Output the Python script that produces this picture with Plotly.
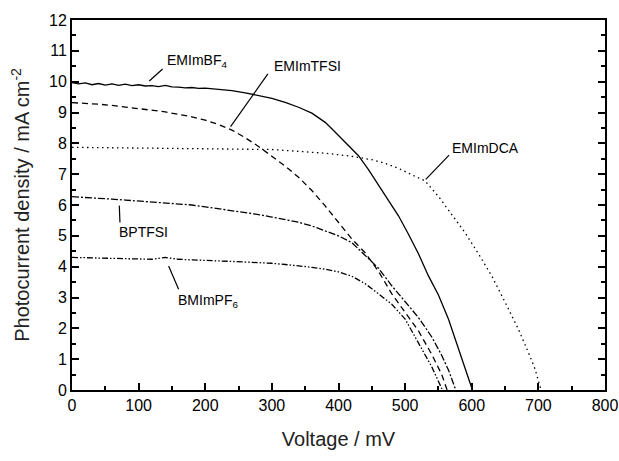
import plotly.graph_objects as go

# ---------------- data ----------------
v_bf4 = [0, 10, 20, 30, 40, 50, 60, 70, 80, 90, 100, 110, 120, 130, 140, 150, 160, 170, 180, 190,
         200, 220, 240, 260, 280, 300, 320, 340, 360, 380, 390, 400, 415, 430, 445, 460, 475, 490,
         505, 520, 535, 550, 565, 575, 585, 595, 601]
j_bf4 = [9.97, 9.93, 9.96, 9.90, 9.94, 9.89, 9.93, 9.88, 9.92, 9.87, 9.90, 9.86, 9.87, 9.84, 9.88,
         9.83, 9.82, 9.80, 9.81, 9.78, 9.79, 9.75, 9.71, 9.64, 9.55, 9.46, 9.33, 9.17, 8.98, 8.68,
         8.47, 8.25, 7.93, 7.60, 7.15, 6.65, 6.15, 5.65, 5.05, 4.42, 3.70, 3.08, 2.30, 1.65, 0.97,
         0.38, 0.0]

v_tfsi = [0, 20, 40, 60, 80, 100, 120, 140, 160, 180, 200, 220, 240, 260, 280, 300, 320, 340, 360,
          380, 400, 420, 440, 460, 480, 500, 520, 540, 555, 563]
j_tfsi = [9.32, 9.30, 9.27, 9.23, 9.18, 9.13, 9.08, 9.02, 8.94, 8.86, 8.75, 8.61, 8.43, 8.18, 7.90,
          7.58, 7.26, 6.90, 6.47, 5.97, 5.42, 4.90, 4.45, 3.85, 3.12, 2.50, 1.92, 1.15, 0.50, 0.0]

v_dca = [0, 50, 100, 150, 200, 250, 300, 340, 380, 420, 450, 470, 490, 510, 530, 550, 570, 590,
         610, 630, 650, 670, 685, 695, 704]
j_dca = [7.87, 7.86, 7.86, 7.85, 7.84, 7.82, 7.80, 7.74, 7.68, 7.58, 7.47, 7.35, 7.19, 6.98, 6.78,
         6.28, 5.70, 5.10, 4.42, 3.70, 2.85, 1.97, 1.22, 0.68, 0.0]

v_bp = [0, 20, 40, 60, 80, 100, 120, 140, 160, 180, 200, 220, 240, 260, 280, 300, 320, 340, 360,
        380, 400, 420, 440, 460, 480, 500, 520, 540, 555, 565, 576]
j_bp = [6.27, 6.25, 6.22, 6.19, 6.16, 6.13, 6.10, 6.08, 6.04, 6.00, 5.94, 5.88, 5.83, 5.76, 5.69,
        5.61, 5.52, 5.44, 5.32, 5.17, 5.00, 4.78, 4.38, 3.95, 3.38, 2.85, 2.35, 1.72, 1.12, 0.65, 0.0]

v_pf6 = [0, 20, 40, 60, 80, 100, 120, 140, 150, 160, 180, 200, 220, 240, 260, 280, 300, 320, 340,
         360, 380, 400, 420, 440, 460, 480, 500, 520, 540, 556]
j_pf6 = [4.30, 4.29, 4.27, 4.28, 4.26, 4.25, 4.24, 4.30, 4.27, 4.24, 4.22, 4.21, 4.19, 4.17, 4.15,
         4.14, 4.11, 4.07, 4.03, 3.98, 3.92, 3.83, 3.69, 3.45, 3.12, 2.78, 2.30, 1.52, 0.75, 0.0]

labels = ["EMImBF<sub>4</sub>", "EMImTFSI", "EMImDCA", "BPTFSI", "BMImPF<sub>6</sub>"]

# ---------------- figure ----------------
FONT = "Arial, Liberation Sans, sans-serif"
series = [
    (v_bf4, j_bf4, "solid"),
    (v_tfsi, j_tfsi, "6px,4px"),
    (v_dca, j_dca, "1.5px,3.5px"),
    (v_bp, j_bp, "7px,2px,2px,2px"),
    (v_pf6, j_pf6, "6px,2px,1.5px,2px,1.5px,2px"),
]

fig = go.Figure()
for (vx, jy, dash), name in zip(series, labels):
    fig.add_trace(go.Scatter(x=vx, y=jy, mode="lines", name=name,
                             line=dict(color="black", width=1.3, dash=dash),
                             showlegend=False))

# label placement (layout only)
label_pos = [(139, 10.67), (300, 10.51), (567, 7.85), (67, 5.11), (156, 2.89)]
leaders = [((136, 10.41), (116, 10.02)),
           ((294, 10.25), (238, 8.54)),
           ((566, 7.62), (531, 6.83)),
           ((71, 5.98), (72, 5.43)),
           ((145, 4.02), (160, 3.27))]

for name, (lx, ly) in zip(labels, label_pos):
    fig.add_annotation(x=lx, y=ly, text=name, showarrow=False, xanchor="left", yanchor="middle",
                       font=dict(family=FONT, size=14, color="black"))
for (a, b) in leaders:
    fig.add_shape(type="line", x0=a[0], y0=a[1], x1=b[0], y1=b[1],
                  line=dict(color="black", width=1.2))

axis_common = dict(showline=True, linecolor="black", linewidth=2, ticks="inside",
                   tickcolor="black", tickwidth=1.5, ticklen=7, showgrid=False, zeroline=False,
                   automargin=False,
                   tickfont=dict(family=FONT, size=16, color="black"))

fig.update_xaxes(range=[0, 800], dtick=100, tick0=0, mirror=True,
                 minor=dict(dtick=50, ticks="inside", ticklen=4, tickcolor="black", tickwidth=1.5),
                 title=dict(text="Voltage / mV", font=dict(family=FONT, size=20, color="#222"),
                            standoff=19),
                 **axis_common)
fig.update_yaxes(range=[0, 12], dtick=1, tick0=0, mirror="ticks",
                 minor=dict(dtick=0.5, ticks="inside", ticklen=4, tickcolor="black", tickwidth=1.5),
                 title=dict(text="Photocurrent density / mA cm<sup>-2</sup>",
                            font=dict(family=FONT, size=20, color="#222"), standoff=14),
                 **axis_common)

fig.update_layout(width=619, height=461, margin=dict(l=72, r=14, t=20, b=71),
                  plot_bgcolor="white", paper_bgcolor="white")

fig.write_html("out.html")
